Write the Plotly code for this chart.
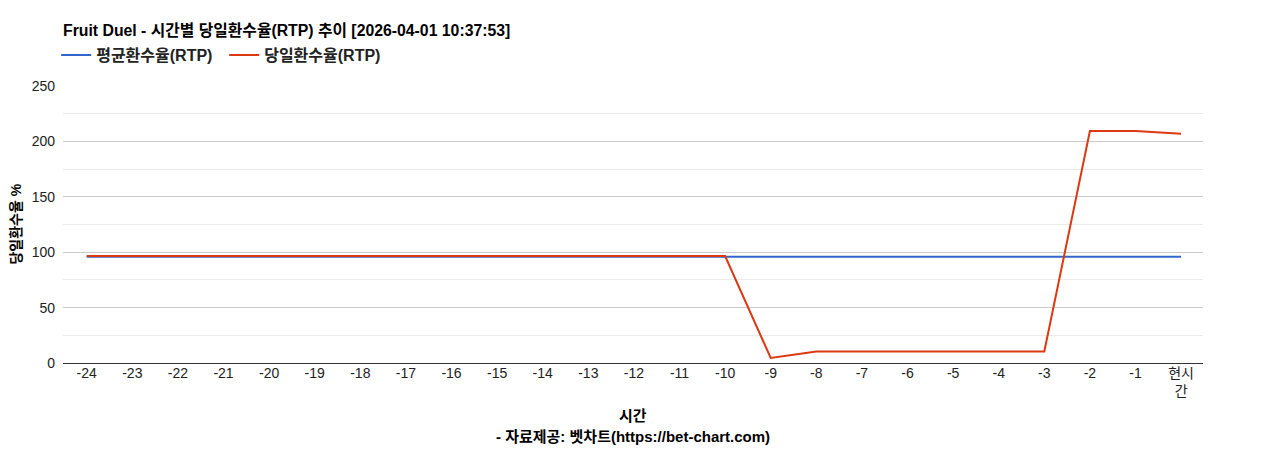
import plotly.graph_objects as go

# hour labels (last one = current hour)
hours = [str(h) for h in range(-24, 0)] + ["현시<br>간"]

avg_rtp = [96] * 25
day_rtp = [96.5, 96.5, 96.5, 96.5, 96.5, 96.5, 96.5, 96.5, 96.5, 96.5, 96.5, 96.5, 96.5, 96.5, 96.5,
           4.5, 10.4, 10.4, 10.4, 10.4, 10.4, 10.4, 209.4, 209.4, 206.8]

font_family = "Liberation Sans, Noto Sans CJK KR, sans-serif"

fig = go.Figure()

fig.add_trace(go.Scatter(
    x=hours, y=avg_rtp, mode="lines", name="<b>평균환수율(RTP)</b>",
    line=dict(color="#3366cc", width=2)
))
fig.add_trace(go.Scatter(
    x=hours, y=day_rtp, mode="lines", name="<b>당일환수율(RTP)</b>",
    line=dict(color="#dc3912", width=2)
))

# axis titles / source note placed as annotations
fig.add_annotation(text="<b>시간</b>", x=0.5, xref="paper", y=-0.188, yref="paper",
                   showarrow=False, font=dict(size=15, color="#000"), yanchor="middle")
fig.add_annotation(text="<b>- 자료제공: 벳차트(https://bet-chart.com)</b>", x=0.5, xref="paper",
                   y=-0.267, yref="paper", showarrow=False, font=dict(size=15, color="#000"),
                   yanchor="middle")
fig.add_annotation(text="<b>당일환수율 %</b>", x=-0.042, xref="paper", y=0.5, yref="paper",
                   textangle=-90, showarrow=False, font=dict(size=14, color="#000"),
                   xanchor="center", yanchor="middle")

# page body adds an 8px offset, so the figure is 8px smaller on each axis
fig.update_layout(
    width=1260, height=442,
    paper_bgcolor="white", plot_bgcolor="white",
    font=dict(family=font_family, size=14, color="#222"),
    margin=dict(l=55, r=65, t=78, b=87, autoexpand=False),
    title=dict(
        text="<b>Fruit Duel - 시간별 당일환수율(RTP) 추이 [2026-04-01 10:37:53]</b>",
        x=55 / 1260, xref="container", xanchor="left", y=1 - 22 / 442, yanchor="middle",
        font=dict(size=15.8, color="#000")
    ),
    legend=dict(
        orientation="h", x=-0.006, xanchor="left", y=1.112, yanchor="middle",
        font=dict(size=16, color="#222"), itemwidth=30,
        entrywidth=123, entrywidthmode="pixels",
        traceorder="normal", bgcolor="rgba(0,0,0,0)"
    ),
    xaxis=dict(
        type="category", range=[-0.52, 24.48],
        showgrid=False, showline=False, ticks="",
        tickfont=dict(size=14, color="#222"), automargin=False
    ),
    yaxis=dict(
        range=[0, 250], dtick=50, tick0=0,
        gridcolor="#cccccc", gridwidth=1,
        zeroline=True, zerolinecolor="#333333", zerolinewidth=1,
        minor=dict(dtick=25, tick0=0, showgrid=True, gridcolor="#ebebeb", gridwidth=1),
        tickfont=dict(size=14, color="#222"), ticklabelstandoff=7, automargin=False
    ),
    showlegend=True,
)

fig.write_html("out.html")
